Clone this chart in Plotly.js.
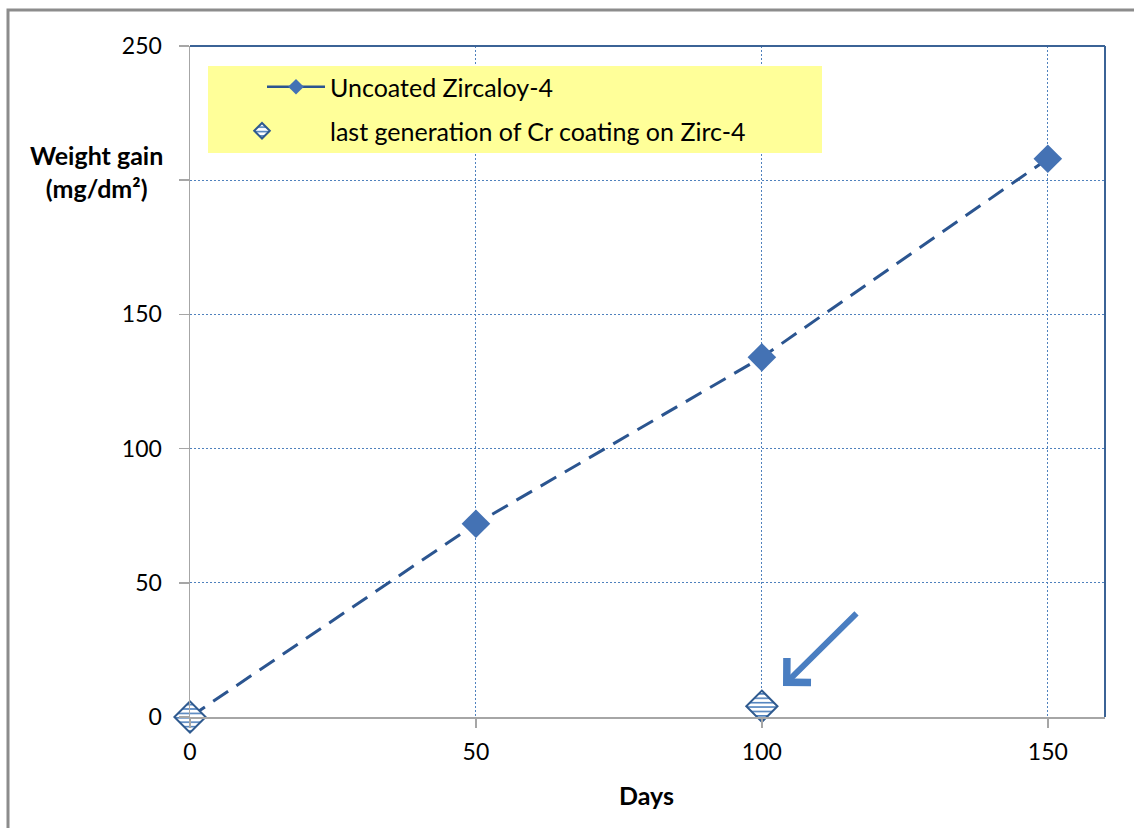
<!DOCTYPE html>
<html>
<head>
<meta charset="utf-8">
<script src="https://cdn.plot.ly/plotly-3.0.1.min.js"></script>
<style>
  html, body { margin: 0; padding: 0; background: #fff; }
  #chart { width: 1134px; height: 828px; }
</style>
</head>
<body>
<div id="chart"></div>
<script>
// ---- data ----
const uncoatedDays = [0, 50, 100, 150];
const uncoatedGain = [0, 72, 134, 208];
const coatedDays = [0, 100];
const coatedGain = [0, 4];
const xTicks = [0, 50, 100, 150];
const yTickVals = [0, 50, 100, 150, 200, 250];
const yTickText = ['0', '50', '100', '150', '', '250']; // "200" is hidden behind the axis title in the original
const uncoatedName = 'Uncoated Zircaloy-4';
const coatedName = 'last generation of Cr coating on Zirc-4';
const yTitle = 'Weight gain<br>(mg/dm²)';
const xTitle = 'Days';

const FONT = 'Lato, "Open Sans", Arial, sans-serif';
const TICKFONT = { family: FONT, size: 23, color: '#000' };

const traces = [
  {
    x: uncoatedDays, y: uncoatedGain, name: uncoatedName,
    type: 'scatter', mode: 'lines+markers', cliponaxis: false,
    line: { color: '#2B5590', width: 3, dash: '18px,10px' },
    marker: { symbol: 'diamond', size: 22, color: '#4472B4', line: { width: 0 } },
    legend: 'legend'
  },
  {
    x: coatedDays, y: coatedGain, name: coatedName,
    type: 'scatter', mode: 'markers', cliponaxis: false,
    marker: { symbol: 'diamond', size: 24, color: '#ffffff', line: { color: '#2F5A8F', width: 2 } },
    legend: 'legend2'
  }
];

const layout = {
  width: 1134, height: 828,
  margin: { l: 190, r: 29, t: 46, b: 111 },
  paper_bgcolor: '#ffffff', plot_bgcolor: '#ffffff',
  showlegend: true,
  xaxis: {
    range: [0, 160], tickvals: xTicks, ticktext: xTicks.map(String),
    ticks: 'outside', ticklen: 9, tickwidth: 1.5, tickcolor: '#A6A6A6',
    showline: true, linecolor: '#A6A6A6', linewidth: 1.5,
    showgrid: true, gridcolor: '#4F81BD', gridwidth: 1, griddash: '2px,2px',
    zeroline: false, tickfont: TICKFONT, ticklabelstandoff: 5, fixedrange: true
  },
  yaxis: {
    range: [0, 250], tickvals: yTickVals, ticktext: yTickText,
    ticks: 'outside', ticklen: 10, tickwidth: 1.5, tickcolor: '#A6A6A6',
    showline: true, linecolor: '#A6A6A6', linewidth: 1.5,
    showgrid: true, gridcolor: '#4F81BD', gridwidth: 1, griddash: '2px,2px',
    zeroline: false, tickfont: TICKFONT, ticklabelstandoff: 12, fixedrange: true
  },
  legend: {
    x: (262 - 190) / 915, y: (717 - 87) / 671, xanchor: 'left', yanchor: 'middle',
    bgcolor: 'rgba(0,0,0,0)', borderwidth: 0, itemwidth: 58,
    font: { family: FONT, size: 25, color: '#000' }, itemsizing: 'constant'
  },
  legend2: {
    x: (262 - 190) / 915, y: (717 - 131) / 671, xanchor: 'left', yanchor: 'middle',
    bgcolor: 'rgba(0,0,0,0)', borderwidth: 0, itemwidth: 58,
    font: { family: FONT, size: 25, color: '#000' }, itemsizing: 'constant'
  },
  shapes: [
    // outer chart frame
    { type: 'rect', xref: 'paper', yref: 'paper', x0: (8 - 190) / 915, x1: 1.3, y0: -0.4, y1: (717 - 10) / 671,
      line: { color: '#8C8C8C', width: 3 }, fillcolor: 'rgba(0,0,0,0)', layer: 'below' },
    // plot area top & right border
    { type: 'line', xref: 'paper', yref: 'paper', x0: 0, x1: 1, y0: 1, y1: 1, line: { color: '#3B6396', width: 2 }, layer: 'above' },
    { type: 'line', xref: 'paper', yref: 'paper', x0: 1, x1: 1, y0: 0, y1: 1, line: { color: '#3B6396', width: 2 }, layer: 'above' },
    // yellow legend box
    { type: 'rect', xref: 'paper', yref: 'paper', x0: (208 - 190) / 915, x1: (822 - 190) / 915,
      y0: (717 - 153) / 671, y1: (717 - 66) / 671, fillcolor: '#FFFF99', line: { width: 0 }, layer: 'above' }
  ],
  annotations: [
    { xref: 'paper', yref: 'paper', x: (96 - 190) / 915, y: (717 - 172) / 671, xanchor: 'center', yanchor: 'middle',
      text: '<b>' + yTitle + '</b>', showarrow: false, align: 'center', bgcolor: '#ffffff', borderpad: 4,
      font: { family: FONT, size: 25, color: '#000' } },
    { xref: 'paper', yref: 'paper', x: (646 - 190) / 915, y: (717 - 795) / 671, xanchor: 'center', yanchor: 'middle',
      text: '<b>' + xTitle + '</b>', showarrow: false,
      font: { family: FONT, size: 25, color: '#000' } },
    // pointer arrow
    { xref: 'x', yref: 'y', x: (783 - 190) / 915 * 160, y: (717 - 686) / 671 * 250,
      ax: 75, ay: -74, text: '', showarrow: true, arrowhead: 4, arrowsize: 1.1, arrowwidth: 6,
      arrowcolor: '#4A7EC1', standoff: 0 }
  ]
};

const gd = document.getElementById('chart');
Plotly.newPlot(gd, traces, layout, { staticPlot: true, displayModeBar: false }).then(function () {
  // hatched fill pattern for the coated-sample diamonds
  const svgNS = 'http://www.w3.org/2000/svg';
  const defs = gd.querySelector('svg.main-svg defs');
  const pat = document.createElementNS(svgNS, 'pattern');
  pat.setAttribute('id', 'hatchH');
  pat.setAttribute('patternUnits', 'userSpaceOnUse');
  pat.setAttribute('width', '8');
  pat.setAttribute('height', '4.4');
  const bg = document.createElementNS(svgNS, 'rect');
  bg.setAttribute('width', '8'); bg.setAttribute('height', '4.4'); bg.setAttribute('fill', '#ffffff');
  const ln = document.createElementNS(svgNS, 'rect');
  ln.setAttribute('y', '0'); ln.setAttribute('width', '8'); ln.setAttribute('height', '1.6'); ln.setAttribute('fill', '#4F81BD');
  pat.appendChild(bg); pat.appendChild(ln);
  defs.appendChild(pat);

  const tr = gd.querySelectorAll('.scatterlayer .trace');
  if (tr[1]) tr[1].querySelectorAll('.points path').forEach(function (p) { p.style.fill = 'url(#hatchH)'; });

  const lg2 = gd.querySelector('.legend2');
  if (lg2) {
    lg2.querySelectorAll('[clip-path]').forEach(function (el) { el.removeAttribute('clip-path'); });
    lg2.querySelectorAll('.legendpoints path').forEach(function (p) { p.style.fill = 'url(#hatchH)'; });
    const lp = lg2.querySelector('.legendpoints');
    if (lp) lp.setAttribute('transform', 'translate(-34,0)');
  }
  const lg1 = gd.querySelector('.legend');
  if (lg1) lg1.querySelectorAll('.legendlines path').forEach(function (p) {
    p.style.strokeDasharray = 'none'; p.style.strokeWidth = '2.5px';
  });
});
</script>
</body>
</html>
